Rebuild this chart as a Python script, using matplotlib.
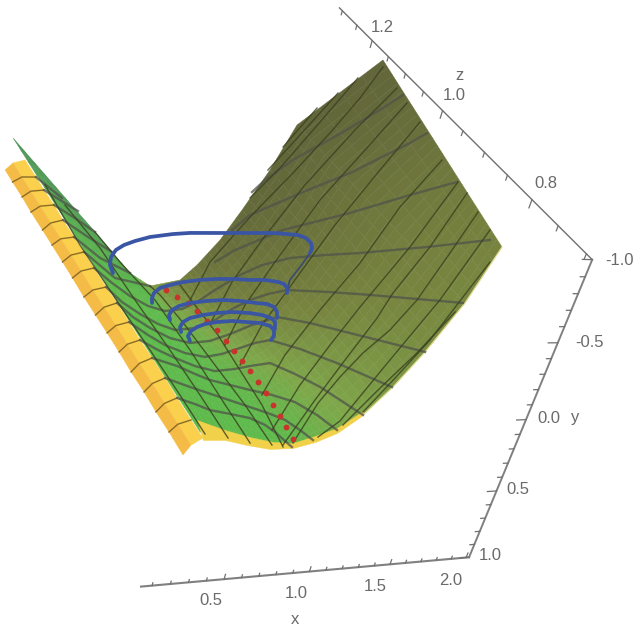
import numpy as np
import matplotlib
matplotlib.use("Agg")
import matplotlib.pyplot as plt
from matplotlib.colors import LinearSegmentedColormap
from mpl_toolkits.mplot3d import proj3d
from mpl_toolkits.mplot3d.art3d import Poly3DCollection

plt.rcParams['font.family'] = ['Liberation Sans', 'DejaVu Sans']

# axis ranges and tick labels
xlim = (0.04, 2.02)
ylim = (-1.0, 1.0)
zlim = (0.69, 1.31)
x_major = [0.5, 1.0, 1.5, 2.0]
y_major = [-1.0, -0.5, 0.0, 0.5, 1.0]
z_major = [0.8, 1.0, 1.2]

# surface nodes (x, y, z)
surface = np.array([
    [(.309,.274,.75),(.402,.227,.73),(.491,.173,.71),(.588,.157,.70),(.673,.116,.69),(.786,.084,.69),
     (.896,.038,.69),(1.049,-.026,.70),(1.246,-.113,.72),(1.486,-.212,.75),(1.834,-.341,.80),(2.200,-.511,.86)],
    [(.262,.293,.83),(.367,.257,.80),(.463,.210,.77),(.560,.193,.75),(.652,.167,.74),(.745,.088,.73),
     (.884,.077,.74),(1.033,-.001,.75),(1.223,-.100,.77),(1.492,-.179,.81),(1.824,-.325,.86),(2.195,-.560,.91)],
    [(.211,.318,.92),(.312,.261,.87),(.419,.228,.83),(.519,.215,.80),(.590,.162,.78),(.724,.126,.78),
     (.827,.060,.78),(1.005,.011,.80),(1.219,-.062,.83),(1.445,-.199,.86),(1.759,-.356,.91),(2.179,-.620,.96)],
    [(.116,.271,1.00),(.238,.241,.94),(.360,.227,.89),(.466,.224,.85),(.546,.189,.83),(.692,.151,.83),
     (.791,.075,.83),(.963,.010,.85),(1.167,-.076,.88),(1.386,-.229,.91),(1.681,-.397,.96),(2.153,-.690,1.01)],
    [(.001,.197,1.08),(.148,.200,1.01),(.287,.211,.95),(.403,.222,.90),(.491,.205,.88),(.622,.126,.87),
     (.743,.079,.88),(.911,-.002,.90),(1.103,-.100,.93),(1.345,-.238,.97),(1.623,-.418,1.02),(2.152,-.745,1.07)],
    [(-.131,.100,1.16),(.059,.171,1.09),(.202,.179,1.01),(.330,.208,.95),(.425,.210,.93),(.570,.131,.92),
     (.685,.071,.93),(.847,-.025,.95),(1.029,-.135,.98),(1.262,-.290,1.02),(1.521,-.477,1.07),(2.105,-.834,1.12)],
    [(-.278,-.019,1.24),(-.062,.090,1.16),(.105,.133,1.07),(.247,.185,1.00),(.328,.169,.97),(.507,.125,.97),
     (.616,.053,.98),(.774,-.058,1.00),(.945,-.178,1.03),(1.169,-.350,1.07),(1.410,-.544,1.12),(2.050,-.932,1.17)],
])
# shade of every surface node, 0 dark green to 1 dark olive
shade = np.array([
    [.12,.12,.12,.12,.14,.23,.31,.40,.49,.56,.60,.65],
    [.12,.12,.12,.12,.15,.24,.34,.44,.52,.60,.65,.69],
    [.12,.12,.12,.12,.16,.28,.38,.49,.58,.65,.70,.75],
    [.13,.13,.13,.14,.19,.34,.47,.58,.67,.74,.78,.82],
    [.10,.10,.12,.15,.24,.43,.58,.69,.77,.82,.86,.89],
    [.06,.06,.08,.12,.34,.56,.72,.81,.87,.91,.94,.96],
    [.00,.00,.02,.05,.47,.69,.82,.91,.96,1.0,1.0,1.0],
])

# the yellow back side along the left
yellow_outer = np.array([(-.349,.105,1.20),(-.314,.132,1.18),(-.264,.178,1.16),(-.232,.193,1.13),(-.183,.225,1.10),
    (-.137,.266,1.08),(-.099,.285,1.05),(-.068,.294,1.02),(-.027,.321,.99),(.011,.337,.96),(.046,.348,.93),
    (.082,.363,.90),(.116,.380,.87),(.131,.350,.83),(.157,.356,.80),(.186,.358,.77),(.195,.326,.73)])
yellow_mid = np.array([(-.292,.080,1.21),(-.258,.093,1.18),(-.213,.134,1.16),(-.165,.179,1.14),(-.124,.205,1.11),
    (-.088,.220,1.08),(-.053,.235,1.05),(-.006,.279,1.03),(.037,.307,1.00),(.072,.319,.97),(.109,.335,.94),
    (.142,.349,.91),(.154,.322,.87),(.190,.336,.84),(.217,.344,.81),(.225,.308,.77),(.251,.312,.74)])
yellow_inner = np.array([(-.229,.026,1.20),(-.167,.089,1.18),(-.129,.122,1.16),(-.092,.137,1.13),(-.048,.181,1.11),
    (-.006,.205,1.08),(.025,.211,1.05),(.071,.256,1.03),(.097,.250,.99),(.146,.289,.97),(.184,.311,.94),
    (.212,.321,.91),(.243,.327,.88),(.256,.301,.84),(.282,.310,.81),(.293,.283,.77),(.307,.268,.74)])
rim = [(.327,.285,.77),(.418,.221,.74),(.511,.181,.72),(.586,.125,.70),(.666,.090,.69),(.777,.051,.69),(.887,.006,.69),
    (1.041,-.052,.70),(1.049,-.026,.70),(.896,.038,.69),(.754,.043,.68),(.675,.122,.69),(.580,.170,.70),(.477,.185,.71),
    (.405,.240,.73),(.310,.281,.74)]
lower_edge = np.array([(1.049,-.026,.70),(1.246,-.113,.72),(1.486,-.212,.75),(1.834,-.341,.80),(2.200,-.511,.86)])

# mesh lines
thick_lines = [
    [(-.167,.089,1.18),(-.033,.115,1.14)],
    [(-.129,.122,1.16),(-.058,.100,1.13),(.038,.113,1.11)],
    [(-.092,.137,1.13),(.011,.133,1.10),(.105,.133,1.07)],
    [(-.048,.181,1.11),(.045,.156,1.07),(.183,.174,1.04)],
    [(-.006,.205,1.08),(.115,.218,1.04),(.247,.185,1.00)],
    [(.025,.211,1.05),(.160,.221,1.00),(.328,.169,.97)],
    [(1.033,-.247,1.05),(1.126,-.306,1.06),(1.336,-.401,1.08),(1.663,-.591,1.09),(1.885,-.714,1.10),(2.082,-.830,1.11)],
    [(.861,-.098,1.01),(.980,-.176,1.02),(1.324,-.320,1.03),(1.611,-.467,1.03),(2.003,-.671,1.04),(2.138,-.722,1.05)],
    [(.727,.030,.98),(.837,-.056,.98),(1.145,-.172,.99),(1.533,-.336,.98),(1.874,-.505,.97),(2.174,-.609,.97)],
    [(.071,.256,1.03),(.147,.256,1.00),(.217,.240,.97),(.300,.236,.95),(.368,.197,.93),(.470,.183,.93),(.552,.134,.93),
     (.671,.086,.94),(.832,.015,.95),(.957,-.056,.95),(1.127,-.108,.95),(1.290,-.200,.93),(1.485,-.252,.92),
     (1.851,-.369,.90),(2.185,-.492,.88)],
    [(.097,.250,.99),(.175,.282,.97),(.241,.255,.94),(.321,.249,.92),(.388,.215,.90),(.506,.202,.90),(.617,.147,.90),
     (.705,.071,.90),(.830,.046,.91),(.933,.004,.91),(1.018,-.060,.90),(1.235,-.120,.88),(1.431,-.174,.86),(1.821,-.341,.80)],
    [(.146,.289,.97),(.202,.276,.94),(.278,.277,.92),(.346,.231,.89),(.449,.227,.88),(.542,.175,.87),(.653,.129,.87),
     (.773,.068,.87),(.915,.014,.87),(1.070,-.020,.85),(1.241,-.066,.82),(1.486,-.212,.75)],
    [(.184,.311,.94),(.254,.287,.91),(.325,.279,.89),(.410,.256,.87),(.486,.204,.85),(.583,.185,.85),(.682,.146,.85),
     (.765,.113,.85),(.823,.055,.84),(.961,.038,.82),(1.081,-.026,.78),(1.240,-.113,.72)],
    [(.212,.321,.91),(.268,.273,.88),(.357,.289,.87),(.415,.224,.84),(.514,.219,.83),(.603,.166,.82),(.688,.148,.82),
     (.773,.089,.81),(.881,.083,.79),(.956,.046,.76),(1.049,-.026,.70)],
    [(.243,.327,.88),(.333,.262,.85),(.401,.236,.83),(.472,.237,.82),(.544,.189,.80),(.641,.183,.79),(.719,.134,.77),
     (.802,.098,.75),(.854,.054,.72),(.891,.019,.69)],
    [(.256,.301,.84),(.366,.281,.82),(.409,.232,.80),(.477,.225,.79),(.581,.166,.76),(.664,.165,.75),(.712,.124,.73),
     (.749,.102,.71),(.773,.077,.69)],
    [(.282,.310,.81),(.344,.267,.79),(.412,.266,.78),(.478,.207,.76),(.569,.194,.75),(.606,.152,.73),(.643,.155,.72),(.667,.116,.69)],
]
thin_lines = [
    [(2.113,-.441,.85),(1.849,-.344,.81),(1.571,-.210,.77),(1.279,-.128,.73),(1.043,-.045,.70)],
    [(1.749,-.318,.79),(1.478,-.166,.76),(1.209,-.066,.73),(.916,-.012,.69)],
    [(2.202,-.528,.89),(1.746,-.287,.82),(1.610,-.241,.80),(1.252,-.086,.75),(.927,.007,.70),(.796,.059,.69)],
    [(2.198,-.555,.92),(1.943,-.397,.88),(1.636,-.250,.83),(1.414,-.162,.80),(1.220,-.090,.78),(1.057,-.017,.76),(.906,.065,.74),(.666,.090,.69)],
    [(2.194,-.593,.95),(1.833,-.402,.89),(1.540,-.224,.85),(1.381,-.166,.82),(1.124,-.045,.78),(.883,.044,.74),(.646,.148,.70)],
    [(2.181,-.609,.97),(1.736,-.366,.90),(1.356,-.128,.85),(1.106,-.026,.81),(.866,.073,.77),(.623,.141,.72)],
    [(2.165,-.645,1.01),(1.796,-.450,.96),(1.472,-.217,.91),(1.141,-.071,.86),(.880,.077,.82),(.660,.132,.77)],
    [(2.132,-.746,1.07),(1.782,-.526,1.02),(1.424,-.280,.97),(1.081,-.094,.91),(.835,.068,.87),(.627,.140,.82)],
    [(2.096,-.800,1.10),(1.764,-.552,1.06),(1.396,-.328,1.01),(1.036,-.079,.95),(.780,.044,.90),(.613,.164,.86)],
    [(2.088,-.831,1.13),(1.745,-.611,1.09),(1.353,-.341,1.04),(.996,-.130,.98),(.766,.030,.94),(.599,.147,.90)],
    [(2.034,-.904,1.16),(1.838,-.740,1.13),(1.602,-.553,1.10),(1.305,-.365,1.06),(.984,-.162,1.02),(.695,.031,.98),(.530,.157,.94)],
    [(1.872,-.812,1.16),(1.568,-.576,1.12),(1.234,-.367,1.07),(1.029,-.205,1.05)],
    [(1.727,-.717,1.15),(1.422,-.500,1.11),(1.181,-.321,1.08)],
    [(1.576,-.624,1.14),(1.298,-.435,1.10)],
    [(.339,.288,.75),(.295,.291,.81),(.242,.312,.89),(.147,.291,.98),(.008,.196,1.06),(-.127,.085,1.16)],
    [(.419,.228,.73),(.385,.251,.80),(.339,.274,.88),(.233,.231,.96),(.121,.181,1.05),(-.036,.104,1.12)],
    [(.491,.173,.71),(.493,.245,.79),(.435,.235,.87),(.335,.194,.95),(.209,.177,1.02),(.105,.133,1.07)],
    [(.585,.145,.70),(.578,.195,.77),(.531,.219,.84),(.464,.219,.91),(.381,.195,.96),(.328,.169,.97)],
    [(.618,.113,.69),(.647,.155,.76),(.634,.174,.82),(.607,.174,.88),(.544,.155,.93),(.492,.125,.96)],
]

# the red dotted curve
red_x = [.411,.467,.498,.542,.569,.594,.613,.650,.660,.667,.675,.680,.680,.708,.697,.692]
red_y = [.160,.173,.141,.160,.154,.139,.137,.166,.154,.140,.131,.120,.113,.142,.125,.112]
red_z = [.96,.95,.93,.92,.90,.88,.86,.85,.83,.81,.79,.77,.75,.74,.72,.70]

# the blue spiral, one list per visible turn
blue_turns = [
    [(.160,.221,1.01),(.150,.199,1.02),(.165,.176,1.03),(.206,.159,1.04),(.251,.123,1.04),(.316,.093,1.04),(.407,.062,1.04),
     (.530,.005,1.03),(.638,-.006,1.03),(.726,-.041,1.02),(.820,-.076,1.01),(.893,-.111,1.00),(1.011,-.114,1.00),
     (1.083,-.149,.99),(1.150,-.176,.98),(1.196,-.203,.97),(1.254,-.184,.97),(1.267,-.182,.96),(1.253,-.181,.95),(1.219,-.179,.94)],
    [(1.024,-.040,.90),(1.044,-.039,.91),(1.018,-.066,.91),(1.005,-.044,.92),(.946,-.022,.93),(.878,.014,.94),(.774,.009,.94),
     (.692,.045,.95),(.610,.088,.96),(.506,.104,.96),(.451,.161,.97),(.393,.182,.97),(.341,.182,.96),(.335,.217,.96),(.321,.215,.95)],
    [(.916,.021,.87),(.935,.017,.88),(.937,.020,.89),(.888,-.000,.89),(.851,.030,.90),(.769,.053,.91),(.687,.083,.92),
     (.607,.127,.93),(.511,.141,.93),(.447,.162,.93),(.410,.190,.93),(.398,.225,.93),(.389,.222,.92)],
    [(.893,.058,.86),(.911,.048,.87),(.879,.021,.87),(.847,.038,.88),(.796,.062,.89),(.716,.092,.90),(.644,.136,.91),
     (.560,.150,.91),(.485,.171,.91),(.448,.198,.91),(.414,.194,.90),(.427,.229,.90)],
    [(.829,.055,.84),(.870,.067,.85),(.889,.065,.86),(.858,.037,.86),(.819,.055,.87),(.765,.086,.88),(.698,.116,.89),
     (.607,.123,.89),(.562,.174,.90),(.517,.195,.90),(.462,.184,.89),(.451,.218,.89),(.446,.213,.88)],
]
blue_hidden = np.array([(1.219,-.179,.94),(1.162,-.143,.93),(1.078,-.059,.92),(1.018,-.060,.90)])

fig = plt.figure(figsize=(6.37, 6.39), dpi=100)
ax = fig.add_axes([0, 0, 1, 1], projection='3d', computed_zorder=False)
ax.set_xlim(*xlim)
ax.set_ylim(*ylim)
ax.set_zlim(*zlim)
ax.view_init(elev=-52.25, azim=-128.5, roll=30.875)
ax.set_proj_type('persp', focal_length=0.32)
ax.set_box_aspect((1, 1.03, 1.728))
ax.set_axis_off()
# place the axes so that the box lands where it is in the reference
scale, left, bottom = 3762.2, 256.73, 389.84
x0, x1 = ax.viewLim.intervalx
y0, y1 = ax.viewLim.intervaly
side = scale * (x1 - x0)
ax.set_position([(left + scale * x0) / 637, (bottom + scale * y0) / 639, side / 637, side / 639])
M = ax.get_proj()


def line3(q, **kw):
    q = np.asarray(q)
    ax.plot(q[:, 0], q[:, 1], q[:, 2], **kw)


# surface, every cell shaded smoothly between its corners
cmap = LinearSegmentedColormap.from_list('surf', [(0, '#4E9458'), (.12, '#5DBB4B'), (.38, '#7FA74A'), (.65, '#77833F'), (1, '#62663A')])
sub = 4
polys = []
cols = []
for r in range(surface.shape[0] - 1):
    for c in range(surface.shape[1] - 1):
        corners = surface[[r, r, r + 1, r + 1], [c, c + 1, c + 1, c]]
        vals = shade[[r, r, r + 1, r + 1], [c, c + 1, c + 1, c]]
        for i in range(sub):
            for j in range(sub):
                quad = []
                for a, b in [(i, j), (i + 1, j), (i + 1, j + 1), (i, j + 1)]:
                    a, b = a / sub, b / sub
                    w = np.array([(1 - a) * (1 - b), a * (1 - b), a * b, (1 - a) * b])
                    quad.append(w @ corners)
                a, b = (i + .5) / sub, (j + .5) / sub
                w = np.array([(1 - a) * (1 - b), a * (1 - b), a * b, (1 - a) * b])
                polys.append(quad)
                cols.append(cmap(w @ vals))
ax.add_collection3d(Poly3DCollection(polys, facecolors=cols, edgecolors=cols, linewidths=0.3, zorder=1))

# yellow band and its dividers
band = []
band_cols = []
for k in range(len(yellow_outer) - 1):
    band.append([yellow_outer[k], yellow_outer[k + 1], yellow_mid[k + 1], yellow_mid[k]])
    band_cols.append('#F4BC46')
    band.append([yellow_mid[k], yellow_mid[k + 1], yellow_inner[k + 1], yellow_inner[k]])
    band_cols.append('#FAD04D')
ax.add_collection3d(Poly3DCollection(band, facecolors=band_cols, edgecolors=band_cols, linewidths=0.3, zorder=1))
for k in range(1, len(yellow_outer) - 1):
    line3([yellow_outer[k], yellow_mid[k], yellow_inner[k]], color='#8A6C25', lw=1.0, zorder=2)
ax.add_collection3d(Poly3DCollection([rim], facecolors='#F2D14A', edgecolors='#F2D14A', linewidths=0.3, zorder=2))
line3(lower_edge, color='#E6DC90', lw=0.8, zorder=2)

for t in thick_lines:
    line3(t, color='#50544A', lw=1.7, alpha=0.75, zorder=3)
for t in thin_lines:
    line3(t, color='#39401F', lw=1.0, alpha=0.8, zorder=3)
line3(blue_hidden, color='#3A4A70', lw=1.2, zorder=3)

ax.plot(red_x, red_y, red_z, 'o', color='#C8342C', ms=4.2, mew=0, zorder=4)
for t in blue_turns:
    line3(t, color='#3B55A5', lw=2.7, zorder=5, solid_capstyle='round')

# axes drawn along the box edges
grey = '#707070'
ax.plot(xlim, (1, 1), (zlim[0], zlim[0]), color='#808080', lw=1.5, zorder=6)
ax.plot((xlim[1], xlim[1]), ylim, (zlim[0], zlim[0]), color='#808080', lw=1.4, zorder=6)
ax.plot((xlim[1], xlim[1]), (-1, -1), zlim, color=grey, lw=1.0, zorder=6)
for v in np.arange(0.1, 2.01, 0.1):
    ln = 0.035 if round(v, 1) in x_major else 0.02
    ax.plot((v, v), (1, 1 - ln), (zlim[0], zlim[0]), color=grey, lw=0.9, zorder=6)
for v in np.arange(-1, 1.01, 0.1):
    ln = 0.06 if round(v, 1) in y_major else 0.03
    ax.plot((xlim[1], xlim[1] - ln), (v, v), (zlim[0], zlim[0]), color=grey, lw=0.9, zorder=6)
for v in np.arange(0.7, 1.31, 0.05):
    ln = 0.05 if round(v, 2) in z_major else 0.03
    ax.plot((xlim[1], xlim[1]), (-1, -1 + ln), (v, v), color=grey, lw=0.9, zorder=6)


def label(x, y, z, s):
    px, py, _ = proj3d.proj_transform(x, y, z, M)
    ax.text2D(px, py, s, color='#6A6A6A', fontsize=12, ha='center', va='center', zorder=7, clip_on=False)


for v in x_major:
    label(v - 0.04, 1.15 + (v - 0.5) * 0.02, zlim[0], f'{v:.1f}')
for v in y_major:
    off = 0.17 if v == -1.0 else (0.2 if v == -0.5 else 0.145)
    label(xlim[1] + off, v, zlim[0], f'{v:.1f}')
for v in z_major:
    label(xlim[1] + 0.05, -1.1, v, f'{v:.1f}')
label(1.01, 1.37, zlim[0], 'x')
label(xlim[1] + 0.32, 0, zlim[0], 'y')
label(xlim[1] + 0.4, -1.02, 1.1, 'z')

fig.savefig('out.png', dpi=100)
